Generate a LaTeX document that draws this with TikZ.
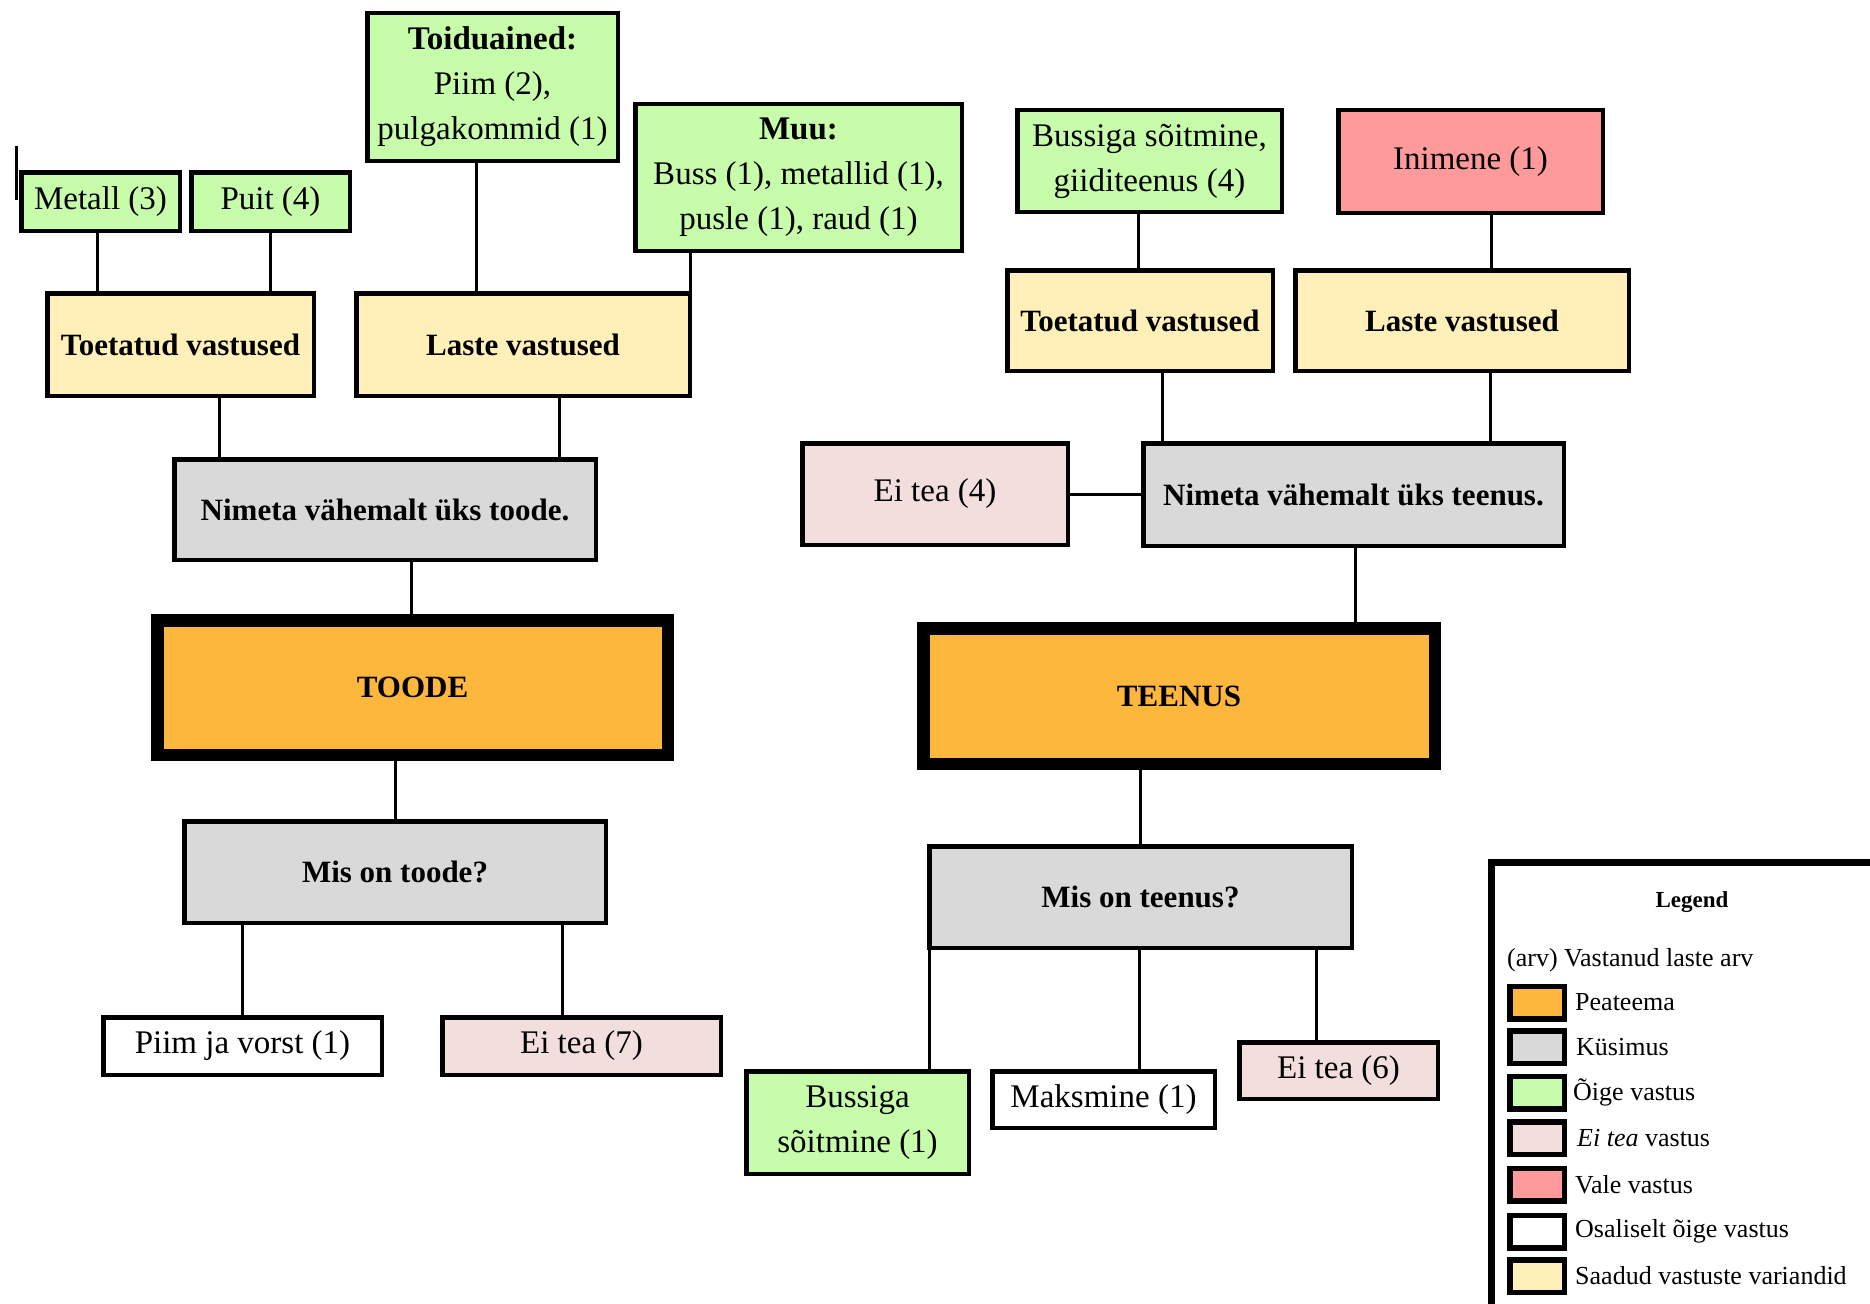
\documentclass[tikz,border=0pt]{standalone}
\usepackage{fontspec}
\setmainfont{Liberation Serif}
\usepackage{tikz}
\usepackage{xcolor}

\definecolor{teema}{HTML}{FDB73C}
\definecolor{kysimus}{HTML}{D9D9D9}
\definecolor{oige}{HTML}{C7FCAA}
\definecolor{eitea}{HTML}{F3DEDE}
\definecolor{vale}{HTML}{FF9A9A}
\definecolor{variant}{HTML}{FFF0B9}

\tikzset{
  kast/.style={draw=black, line width=4.5pt, inner sep=0pt, align=center,
    font=\fontsize{33}{45}\selectfont},
  paks/.style={kast, font=\fontsize{31}{45}\selectfont\bfseries},
  peateema/.style={paks, fill=teema, line width=12.5pt},
  kysi/.style={paks, fill=kysimus},
  variandid/.style={paks, fill=variant},
  oigevastus/.style={kast, fill=oige},
  eiteavastus/.style={kast, fill=eitea},
  valevastus/.style={kast, fill=vale},
  osaline/.style={kast, fill=white},
  yhendus/.style={line width=3pt},
  naidis/.style={draw=black, line width=5.5pt, minimum width=54.5pt, minimum height=32.5pt, inner sep=0pt},
  seletus/.style={anchor=west, inner sep=0pt, font=\fontsize{26}{30}\selectfont}
}

\begin{document}
\begin{tikzpicture}[x=1pt,y=-1pt]

\clip (0,0) rectangle (1870,1303);

% toode
\node[oigevastus, minimum width=158.5pt, minimum height=58.5pt] (metall) at (100.5,201.5) {Metall (3)};
\node[oigevastus, minimum width=158.5pt, minimum height=58.5pt] (puit) at (270.5,201.5) {Puit (4)};
\node[oigevastus, minimum width=250.5pt, minimum height=147.5pt] (toidu) at (492.5,87) {\textbf{Toiduained:}\\Piim (2),\\pulgakommid (1)};
\node[oigevastus, minimum width=326.5pt, minimum height=146.5pt] (muu) at (798.5,177.5) {\textbf{Muu:}\\Buss (1), metallid (1),\\pusle (1), raud (1)};

\node[variandid, minimum width=266.5pt, minimum height=102.5pt] (toetatudT) at (180.5,344.5) {Toetatud vastused};
\node[variandid, minimum width=333.5pt, minimum height=102.5pt] (lasteT) at (523,344.5) {Laste vastused};

\node[kysi, minimum width=421.5pt, minimum height=100.5pt] (nimetaT) at (385,509.5) {Nimeta vähemalt üks toode.};

\node[peateema, minimum width=510.5pt, minimum height=134.5pt] (toode) at (412.5,687.5) {TOODE};

\node[kysi, minimum width=421.5pt, minimum height=101.5pt] (misT) at (395,872) {Mis on toode?};

\node[osaline, minimum width=278.5pt, minimum height=57.5pt] (piim) at (242.5,1046) {Piim ja vorst (1)};
\node[eiteavastus, minimum width=278.5pt, minimum height=57.5pt] (eitea7) at (581.5,1046) {Ei tea (7)};

\draw[yhendus] ([xshift=-3.5pt]metall.south) -- ([xshift=-3.5pt]metall.south |- toetatudT.north);
\draw[yhendus] (puit.south) -- (puit.south |- toetatudT.north);
\draw[yhendus] ([xshift=-16.5pt]toidu.south) -- ([xshift=-16.5pt]toidu.south |- lasteT.north);
\draw[yhendus] ([xshift=-108.5pt]muu.south) -- ([xshift=-108.5pt]muu.south |- lasteT.north);
\draw[yhendus] ([xshift=38.5pt]toetatudT.south) -- ([xshift=38.5pt]toetatudT.south |- nimetaT.north);
\draw[yhendus] ([xshift=36pt]lasteT.south) -- ([xshift=36pt]lasteT.south |- nimetaT.north);
\draw[yhendus] ([xshift=26.5pt]nimetaT.south) -- ([xshift=26.5pt]nimetaT.south |- toode.north);
\draw[yhendus] (misT.north) -- (misT.north |- toode.south);
\draw[yhendus] (piim.north) -- (piim.north |- misT.south);
\draw[yhendus] ([xshift=-19.5pt]eitea7.north) -- ([xshift=-19.5pt]eitea7.north |- misT.south);

\draw[yhendus] (16,146) -- (16,200);

% teenus
\node[oigevastus, minimum width=264.5pt, minimum height=101.5pt] (bussGiid) at (1149.5,161) {Bussiga sõitmine,\\giiditeenus (4)};
\node[valevastus, minimum width=264.5pt, minimum height=102.5pt] (inimene) at (1470.5,161.5) {Inimene (1)};

\node[variandid, minimum width=265.5pt, minimum height=100.5pt] (toetatudS) at (1140,320.5) {Toetatud vastused};
\node[variandid, minimum width=333.5pt, minimum height=100.5pt] (lasteS) at (1462,320.5) {Laste vastused};

\node[eiteavastus, minimum width=265.5pt, minimum height=101.5pt] (eitea4) at (935,494) {Ei tea (4)};
\node[kysi, minimum width=420.5pt, minimum height=102.5pt] (nimetaS) at (1353.5,494.5) {Nimeta vähemalt üks teenus.};

\node[peateema, minimum width=511.5pt, minimum height=135.5pt] (teenus) at (1179,696) {TEENUS};

\node[kysi, minimum width=422.5pt, minimum height=101.5pt] (misS) at (1140.5,897) {Mis on teenus?};

\node[oigevastus, minimum width=222.5pt, minimum height=102.5pt] (bussS) at (857.5,1122.5) {Bussiga\\sõitmine (1)};
\node[osaline, minimum width=222.5pt, minimum height=56.5pt] (maks) at (1103.5,1099.5) {Maksmine (1)};
\node[eiteavastus, minimum width=198.5pt, minimum height=56.5pt] (eitea6) at (1338.5,1070.5) {Ei tea (6)};

\draw[yhendus] ([xshift=-11pt]bussGiid.south) -- ([xshift=-11pt]bussGiid.south |- toetatudS.north);
\draw[yhendus] ([xshift=21pt]inimene.south) -- ([xshift=21pt]inimene.south |- lasteS.north);
\draw[yhendus] ([xshift=22pt]toetatudS.south) -- ([xshift=22pt]toetatudS.south |- nimetaS.north);
\draw[yhendus] ([xshift=28pt]lasteS.south) -- ([xshift=28pt]lasteS.south |- nimetaS.north);
\draw[yhendus] (eitea4.east) -- (eitea4.east -| nimetaS.west);
\draw[yhendus] ([xshift=2pt]nimetaS.south) -- ([xshift=2pt]nimetaS.south |- teenus.north);
\draw[yhendus] (misS.north) -- (misS.north |- teenus.south);
\draw[yhendus] ([xshift=2pt]misS.south west) -- ([xshift=2pt]misS.south west |- bussS.north);
\draw[yhendus] ([xshift=35.5pt]maks.north) -- ([xshift=35.5pt]maks.north |- misS.south);
\draw[yhendus] ([xshift=-22.5pt]eitea6.north) -- ([xshift=-22.5pt]eitea6.north |- misS.south);

% legend
\draw[line width=7pt] (1491.5,862.5) rectangle (1900,1340);

\node[font=\fontsize{23}{28}\selectfont\bfseries] (legend) at (1692,902) {Legend};
\node[seletus] (arv) at (1507,960) {(arv) Vastanud laste arv};

\node[naidis, fill=teema] (n1) at (1537,1002.5) {};
\node[naidis, fill=kysimus] (n2) at (1537,1047) {};
\node[naidis, fill=oige] (n3) at (1537,1092.5) {};
\node[naidis, fill=eitea] (n4) at (1537,1138) {};
\node[naidis, fill=vale] (n5) at (1537,1184.5) {};
\node[naidis, fill=white] (n6) at (1537,1231.5) {};
\node[naidis, fill=variant] (n7) at (1537,1276) {};

\node[seletus] (s1) at (1575,1002.5) {Peateema};
\node[seletus] (s2) at (1576,1047) {Küsimus};
\node[seletus] (s3) at (1573,1092.5) {Õige vastus};
\node[seletus] (s4) at (1577,1138) {\textit{Ei tea} vastus};
\node[seletus] (s5) at (1575,1184.5) {Vale vastus};
\node[seletus] (s6) at (1575,1231.5) {Osaliselt õige vastus};
\node[seletus] (s7) at (1575,1276) {Saadud vastuste variandid};

\end{tikzpicture}
\end{document}
